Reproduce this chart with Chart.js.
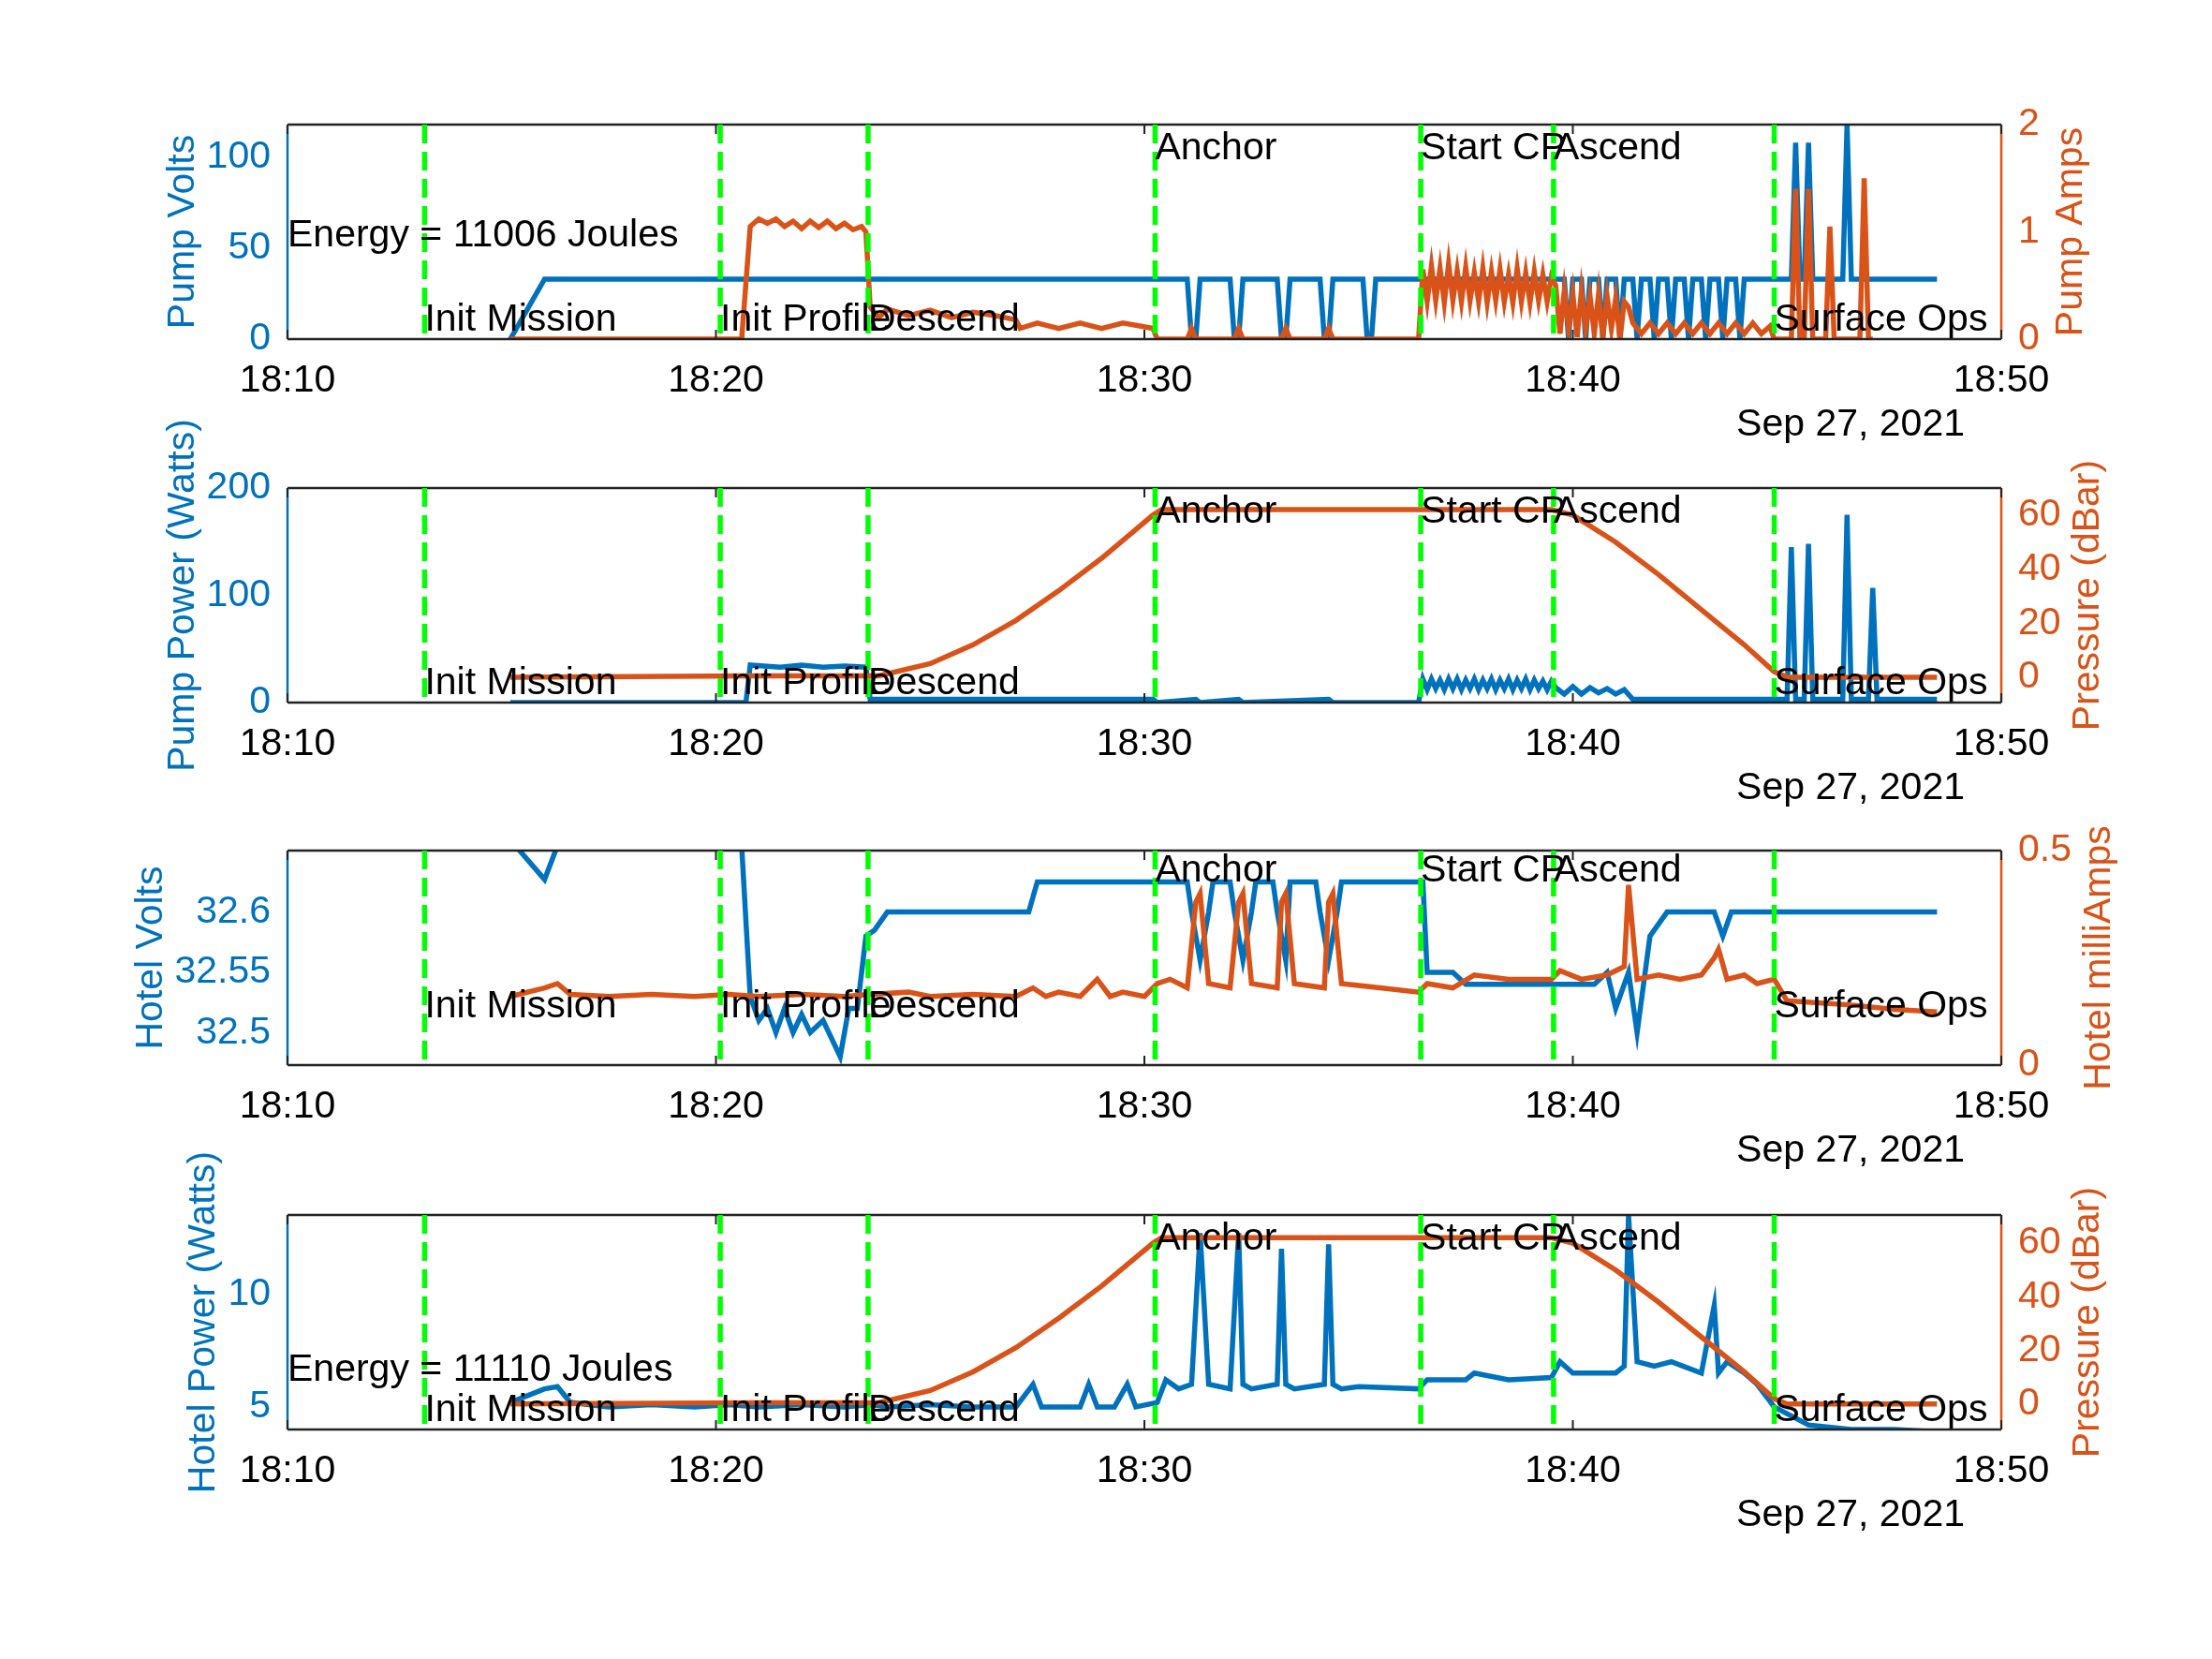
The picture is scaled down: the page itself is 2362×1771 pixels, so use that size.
<!DOCTYPE html>
<html><head><meta charset="utf-8">
<script src="https://cdn.jsdelivr.net/npm/chart.js@4.4.0/dist/chart.umd.min.js"></script>
<style>html,body{margin:0;padding:0;background:#fff;width:2362px;height:1771px;overflow:hidden;position:relative}
canvas{position:absolute;left:0}</style></head><body>
<canvas id="c1" width="2362" height="600" style="top:-17px"></canvas>
<canvas id="c2" width="2362" height="600" style="top:371px"></canvas>
<canvas id="c3" width="2362" height="600" style="top:758px"></canvas>
<canvas id="c4" width="2362" height="600" style="top:1147px"></canvas>
<script>
// ---- data (minutes after 18:10) ----
const xTickValues = [0,10,20,30,40];
const xTickLabels = ['18:10','18:20','18:30','18:40','18:50'];
const dateLabel = 'Sep 27, 2021';
const eventNames = ['Init Mission','Init Profile','Descend','Anchor','Start CP','Ascend','Surface Ops'];
const eventTimes = [3.2,10.1,13.55,20.25,26.45,29.55,34.7];
const eventRow = ['bottom','bottom','bottom','top','top','top','bottom'];

const pumpVoltsT = [5.2,6.0,21.0,21.1,21.2,21.3,22.0,22.1,22.2,22.3,23.1,23.2,23.3,23.4,24.1,24.2,24.3,24.4,25.1,25.2,25.3,25.4,
 29.8,29.9,30.0,30.2,30.3,30.4,30.6,30.7,30.8,31.0,31.1,31.2,31.4,31.5,31.6,31.8,31.9,32.0,32.2,32.3,32.4,32.6,32.7,32.8,33.0,33.1,33.2,33.4,33.5,33.6,33.8,33.9,34.0,
 35.1,35.2,35.3,35.4,35.5,35.6,36.3,36.4,36.5,38.5];
const pumpVoltsV = [0,33,33,0,0,33,33,0,0,33,33,0,0,33,33,0,0,33,33,0,0,33,
 33,0,33,33,0,33,33,0,33,33,0,33,33,0,33,33,0,33,33,0,33,33,0,33,33,0,33,33,0,33,33,0,33,
 33,108,33,33,108,33,33,118,33,33];

const pumpAmpsT = [5.2,10.6,10.8,11.0,11.2,11.4,11.6,11.8,12.0,12.2,12.4,12.6,12.8,13.0,13.2,13.4,13.5,13.6,13.8,14.0,14.5,15.0,15.5,16.0,16.5,17.0,17.1,17.5,18.0,18.5,19.0,19.5,20.2,20.3,
 21.0,21.1,21.2,22.1,22.2,22.3,23.2,23.3,23.4,24.2,24.3,24.4,26.4,
 26.5,26.6,26.7,26.8,26.9,27.0,27.1,27.2,27.3,27.4,27.5,27.6,27.7,27.8,27.9,28.0,28.1,28.2,28.3,28.4,28.5,28.6,28.7,28.8,28.9,29.0,29.1,29.2,29.3,29.4,29.5,
 29.6,29.7,29.8,29.9,30.0,30.1,30.2,30.3,30.4,30.5,30.6,30.7,30.8,30.9,31.0,31.1,31.2,31.3,
 31.4,31.6,31.8,32.0,32.2,32.4,32.6,32.8,33.0,33.2,33.4,33.6,33.8,34.0,34.2,34.4,34.6,34.7,
 35.1,35.2,35.3,35.4,35.5,35.6,35.9,36.0,36.1,36.7,36.8,36.9,37.0];
const pumpAmpsV = [0,0,1.05,1.12,1.08,1.12,1.05,1.1,1.03,1.1,1.04,1.1,1.03,1.08,1.02,1.05,1.0,0.3,0.2,0.28,0.22,0.27,0.2,0.25,0.22,0.18,0.1,0.15,0.1,0.15,0.1,0.15,0.1,0,
 0,0.1,0,0,0.1,0,0,0.1,0,0,0.1,0,0,
 0.65,0.35,0.68,0.36,0.66,0.34,0.7,0.36,0.64,0.35,0.67,0.36,0.62,0.35,0.66,0.34,0.63,0.36,0.65,0.35,0.6,0.34,0.66,0.35,0.62,0.34,0.63,0.36,0.6,0.35,0.58,
 0.5,0.05,0.45,0.1,0.42,0.02,0.45,0.1,0.4,0.05,0.42,0.02,0.4,0.1,0.38,0.0,0.35,0.3,
 0.15,0.05,0.15,0.05,0.15,0.05,0.15,0.05,0.15,0.05,0.15,0.05,0.15,0.05,0.15,0.05,0.12,0,
 0,1.4,0,0,1.4,0,0,1.05,0,0,1.5,0,0];

const pressureT = [5.2,10.8,13.8,15.0,16.0,17.0,18.0,19.0,20.2,20.4,29.5,30.0,31.0,32.0,33.0,34.0,34.7,35.0,38.5];
const pressureV = [0,0.5,0.5,5,12,21,32,44,60,62,62,60,50,38,25,12,2,0,0];

const pumpPowerT = [5.2,10.7,10.8,11.5,12.0,12.5,13.0,13.5,13.6,20.2,20.3,21.2,21.3,22.2,22.3,24.3,24.4,26.4,
 26.5,26.6,26.7,26.8,26.9,27.0,27.1,27.2,27.3,27.4,27.5,27.6,27.7,27.8,27.9,28.0,28.1,28.2,28.3,28.4,28.5,28.6,28.7,28.8,28.9,29.0,29.1,29.2,29.3,29.4,29.5,
 29.6,29.8,30.0,30.2,30.4,30.6,30.8,31.0,31.2,31.4,
 35.0,35.1,35.2,35.4,35.5,35.6,36.3,36.4,36.5,36.9,37.0,37.1,38.5];
const pumpPowerV = [0,0,35,33,35,33,34,33,3,3,0,3,0,3,0,3,0,0,
 22,12,22,13,21,12,22,13,22,12,21,13,22,12,21,13,22,12,21,13,22,12,21,13,22,12,21,13,20,12,20,
 14,8,15,8,14,9,13,8,12,3,
 3,145,3,3,148,3,3,175,3,3,107,3,3];

const hotelVoltsT = [5.2,6.0,6.3,10.6,10.8,11.0,11.2,11.4,11.6,11.8,12.0,12.2,12.5,12.9,13.1,13.3,13.5,13.7,14.0,17.3,17.5,21.0,21.1,21.3,21.5,21.6,22.0,22.1,22.3,22.5,22.6,23.0,23.1,23.3,23.4,24.0,24.1,24.3,24.5,24.6,26.5,26.6,27.2,27.5,30.5,30.8,31.0,31.3,31.5,31.8,32.2,32.5,33.3,33.5,33.7,38.5];
const hotelVoltsV = [32.66,32.627,32.655,32.655,32.53,32.51,32.52,32.5,32.52,32.5,32.515,32.5,32.51,32.48,32.52,32.52,32.58,32.585,32.6,32.6,32.625,32.625,32.6,32.56,32.6,32.625,32.625,32.6,32.56,32.6,32.625,32.625,32.6,32.56,32.625,32.625,32.6,32.56,32.6,32.625,32.625,32.55,32.55,32.54,32.54,32.55,32.52,32.55,32.5,32.58,32.6,32.6,32.6,32.58,32.6,32.6];

const hotelAmpsT = [5.2,6.0,6.3,6.6,7.5,8.5,9.5,10.3,11.0,12.0,13.0,13.6,14.5,15.0,16.0,17.0,17.4,17.7,18.0,18.5,18.9,19.2,19.5,20.0,20.3,20.6,21.0,21.2,21.3,21.5,22.0,22.2,22.3,22.5,23.1,23.2,23.3,23.5,24.2,24.3,24.4,24.6,25.5,26.4,26.6,27.2,27.7,28.5,29.5,29.7,30.2,30.8,31.2,31.3,31.5,32.0,32.5,33.0,33.3,33.4,33.6,34.0,34.3,34.7,35.0,36.5,37.5,38.5];
const hotelAmpsV = [0.16,0.18,0.19,0.165,0.16,0.165,0.16,0.165,0.16,0.165,0.16,0.165,0.17,0.16,0.165,0.16,0.18,0.16,0.17,0.16,0.2,0.16,0.17,0.16,0.19,0.2,0.18,0.38,0.4,0.19,0.18,0.38,0.4,0.19,0.18,0.38,0.4,0.19,0.18,0.38,0.4,0.19,0.18,0.17,0.19,0.18,0.21,0.2,0.2,0.22,0.2,0.21,0.23,0.42,0.2,0.21,0.2,0.21,0.25,0.27,0.2,0.21,0.19,0.2,0.15,0.14,0.13,0.124];

const hotelPowerT = [5.2,6.0,6.3,6.6,7.5,8.5,9.5,10.3,11.0,12.0,13.0,13.6,14.0,15.0,16.0,17.0,17.4,17.6,17.9,18.5,18.7,18.9,19.3,19.6,19.8,20.3,20.5,20.8,21.1,21.3,21.5,22.0,22.2,22.3,22.5,23.1,23.2,23.3,23.5,24.2,24.3,24.4,24.6,25.0,26.4,26.6,27.5,27.7,28.5,29.5,29.7,30.0,31.0,31.2,31.3,31.5,31.9,32.3,33.0,33.3,33.4,33.6,34.0,34.3,34.7,35.5,36.5,37.5,38.5];
const hotelPowerV = [5.2,5.8,5.9,5.2,5.0,5.1,5.0,5.1,5.0,5.1,5.0,5.1,5.0,5.1,5.0,5.0,6.0,5.0,5.0,5.0,6.0,5.0,5.0,6.0,5.0,5.2,6.2,5.8,6.0,12.7,6.0,5.8,12.7,6.0,5.8,6.0,12.0,6.0,5.8,6.0,12.2,6.0,5.8,5.9,5.8,6.2,6.2,6.5,6.2,6.3,7.0,6.5,6.5,6.8,13.5,7.0,6.8,7.0,6.5,9.5,6.5,7.0,6.5,6.0,5.0,4.2,4.0,4.0,3.9];

// ---- rendering ----
const BLUE='#0072BD', ORANGE='#D95319', GREEN='#00FF00';
const FONT='"Liberation Sans", Arial, sans-serif';
const FS=41;
const pts=(T,V)=>T.map((t,i)=>({x:t,y:V[i]}));

function makePanel(id, cfg){
  const overlay={id:'ov',
    afterDatasetsDraw(ch){
      const c=ch.ctx, a=ch.chartArea, xs=ch.scales.x;
      c.save();
      c.lineWidth=2.5;
      c.strokeStyle='#222';
      c.beginPath();c.moveTo(a.left,a.top);c.lineTo(a.right,a.top);c.moveTo(a.left,a.bottom);c.lineTo(a.right,a.bottom);c.stroke();
      c.strokeStyle=BLUE;c.beginPath();c.moveTo(a.left,a.top);c.lineTo(a.left,a.bottom);c.stroke();
      c.strokeStyle=ORANGE;c.beginPath();c.moveTo(a.right,a.top);c.lineTo(a.right,a.bottom);c.stroke();
      c.strokeStyle='#222';c.lineWidth=2;
      xTickValues.forEach(v=>{const px=xs.getPixelForValue(v);c.beginPath();c.moveTo(px,a.bottom);c.lineTo(px,a.bottom-10);c.moveTo(px,a.top);c.lineTo(px,a.top+10);c.stroke();});
      c.strokeStyle=GREEN;c.lineWidth=5.5;c.setLineDash([20,9]);
      eventTimes.forEach(t=>{const px=xs.getPixelForValue(t);c.beginPath();c.moveTo(px,a.top);c.lineTo(px,a.bottom);c.stroke();});
      c.setLineDash([]);
      c.fillStyle='#000';c.font=FS+'px '+FONT;c.textBaseline='middle';c.textAlign='left';
      eventNames.forEach((n,i)=>{const px=xs.getPixelForValue(eventTimes[i]);
        const py=eventRow[i]==='top'?a.top+cfg.topLab:a.bottom-cfg.botLab;c.fillText(n,px,py);});
      if(cfg.energy){c.fillText(cfg.energy,a.left,a.top+cfg.energyY);}
      c.textAlign='right';c.fillText(dateLabel,2098,a.bottom+92);
      c.textAlign='center';
      const cy=(a.top+a.bottom)/2;
      c.save();c.translate(cfg.leftTitleX,cy);c.rotate(-Math.PI/2);c.fillStyle=BLUE;c.fillText(cfg.leftTitle,0,0);c.restore();
      c.save();c.translate(cfg.rightTitleX,cy);c.rotate(-Math.PI/2);c.fillStyle=ORANGE;c.fillText(cfg.rightTitle,0,0);c.restore();
      c.restore();
    }};
  const yAxis=(pos,min,max,ticks,color,fmt,w)=>({type:'linear',position:pos,min,max,
    grid:{display:false,drawTicks:false},border:{display:false},
    afterBuildTicks:ax=>{ax.ticks=ticks.map(v=>({value:v}));},
    afterFit:ax=>{ax.width=w;},
    ticks:{color,font:{size:FS,family:FONT},padding:18,callback:fmt||(v=>v)}});
  new Chart(document.getElementById(id),{
    type:'line',
    data:{datasets:[
      {data:pts(cfg.lT,cfg.lV),borderColor:BLUE,yAxisID:'yL',order:2},
      {data:pts(cfg.rT,cfg.rV),borderColor:ORANGE,yAxisID:'yR',order:1}
    ]},
    options:{responsive:false,animation:false,devicePixelRatio:1,
      layout:{padding:{top:150,left:0,right:0,bottom:0}},
      elements:{point:{radius:0},line:{borderWidth:5.5,tension:0}},
      plugins:{legend:{display:false},tooltip:{enabled:false}},
      scales:{
        x:{type:'linear',min:0,max:40,grid:{display:false,drawTicks:false},border:{display:false},
          afterBuildTicks:ax=>{ax.ticks=xTickValues.map(v=>({value:v}));},
          afterFit:ax=>{ax.height=221;},
          ticks:{color:'#000',font:{size:FS,family:FONT},padding:20,maxRotation:0,
            callback:v=>xTickLabels[xTickValues.indexOf(v)]}},
        yL:yAxis('left',cfg.lMin,cfg.lMax,cfg.lTicks,BLUE,cfg.lFmt,307),
        yR:yAxis('right',cfg.rMin,cfg.rMax,cfg.rTicks,ORANGE,cfg.rFmt,225)
      }},
    plugins:[overlay]});
}

makePanel('c1',{lT:pumpVoltsT,lV:pumpVoltsV,rT:pumpAmpsT,rV:pumpAmpsV,
  lMin:0,lMax:118,lTicks:[0,50,100],rMin:0,rMax:2,rTicks:[0,1,2],
  leftTitle:'Pump Volts',leftTitleX:196,rightTitle:'Pump Amps',rightTitleX:2212,
  energy:'Energy = 11006 Joules',energyY:119,topLab:26,botLab:20});
makePanel('c2',{lT:pumpPowerT,lV:pumpPowerV,rT:pressureT,rV:pressureV,
  lMin:0,lMax:200,lTicks:[0,100,200],rMin:-9.4,rMax:70,rTicks:[0,20,40,60],
  leftTitle:'Pump Power (Watts)',leftTitleX:196,rightTitle:'Pressure (dBar)',rightTitleX:2230,topLab:26,botLab:20});
makePanel('c3',{lT:hotelVoltsT,lV:hotelVoltsV,rT:hotelAmpsT,rV:hotelAmpsV,
  lMin:32.473,lMax:32.651,lTicks:[32.5,32.55,32.6],rMin:0,rMax:0.5,rTicks:[0,0.5],
  lFmt:v=>String(Math.round(v*100)/100),
  leftTitle:'Hotel Volts',leftTitleX:162,rightTitle:'Hotel milliAmps',rightTitleX:2242,topLab:22,botLab:62});
makePanel('c4',{lT:hotelPowerT,lV:hotelPowerV,rT:pressureT,rV:pressureV,
  lMin:4.0,lMax:13.5,lTicks:[5,10],rMin:-9.5,rMax:70.5,rTicks:[0,20,40,60],
  leftTitle:'Hotel Power (Watts)',leftTitleX:218,rightTitle:'Pressure (dBar)',rightTitleX:2230,
  energy:'Energy = 11110 Joules',energyY:166,topLab:26,botLab:20});
</script></body></html>
